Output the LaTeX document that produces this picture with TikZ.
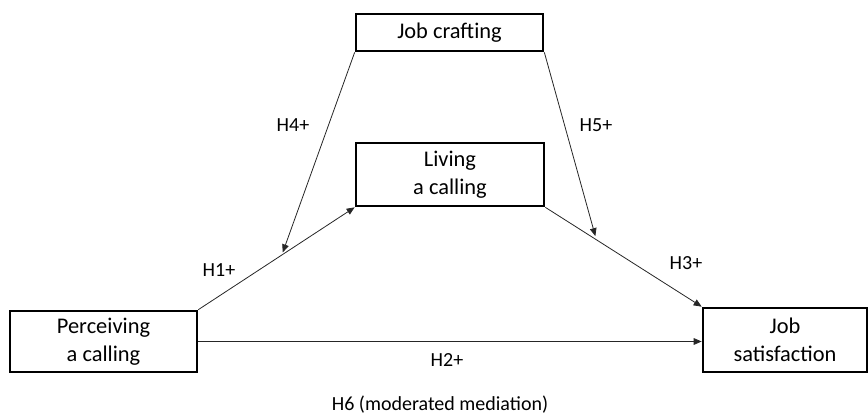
\documentclass[tikz,border=0pt]{standalone}
\usepackage{fontspec}
\setmainfont{Carlito}
\usetikzlibrary{arrows.meta,calc}
\begin{document}
\begin{tikzpicture}[x=0.75pt,y=-0.75pt,
  varbox/.style={draw,line width=2pt,inner sep=0pt,align=center,
    font=\fontsize{16.8}{21}\selectfont},
  hyp/.style={font=\fontsize{15}{18}\selectfont},
  link/.style={line width=0.6pt,draw=black!85,-{Triangle[length=6pt,width=5pt]}}]
\useasboundingbox (0,0) rectangle (868,416);
\node[varbox,minimum width=187*0.75pt,minimum height=37*0.75pt] (jc) at (449.5,32.5) {Job crafting};
\node[varbox,minimum width=188*0.75pt,minimum height=63*0.75pt] (lc) at (450,174.5) {Living\\a calling};
\node[varbox,minimum width=187*0.75pt,minimum height=61*0.75pt] (pc) at (103.5,341.5) {Perceiving\\a calling};
\node[varbox,minimum width=164*0.75pt,minimum height=64*0.75pt] (js) at (785,340) {Job\\satisfaction};
\draw[link] (pc.north east) -- (lc.south west);
\draw[link] (pc.east) -- (js.west |- pc.east);
\draw[link] (lc.south east) -- (js.north west);
\coordinate (m1) at ($(pc.north east)!0.54!(lc.south west)$);
\coordinate (m3) at ($(lc.south east)!0.32!(js.north west)$);
\draw[link] (jc.south west) -- ($(m1)+(0,-2)$);
\draw[link] (jc.south east) -- ($(m3)+(0,-3)$);
\node[hyp] (h1) at (219,270) {H1+};
\node[hyp] (h2) at (447,360) {H2+};
\node[hyp] (h3) at (686,263) {H3+};
\node[hyp] (h4) at (293,125) {H4+};
\node[hyp] (h5) at (596,125) {H5+};
\node[hyp] (h6) at (440,405) {H6 (moderated mediation)};
\end{tikzpicture}
\end{document}
